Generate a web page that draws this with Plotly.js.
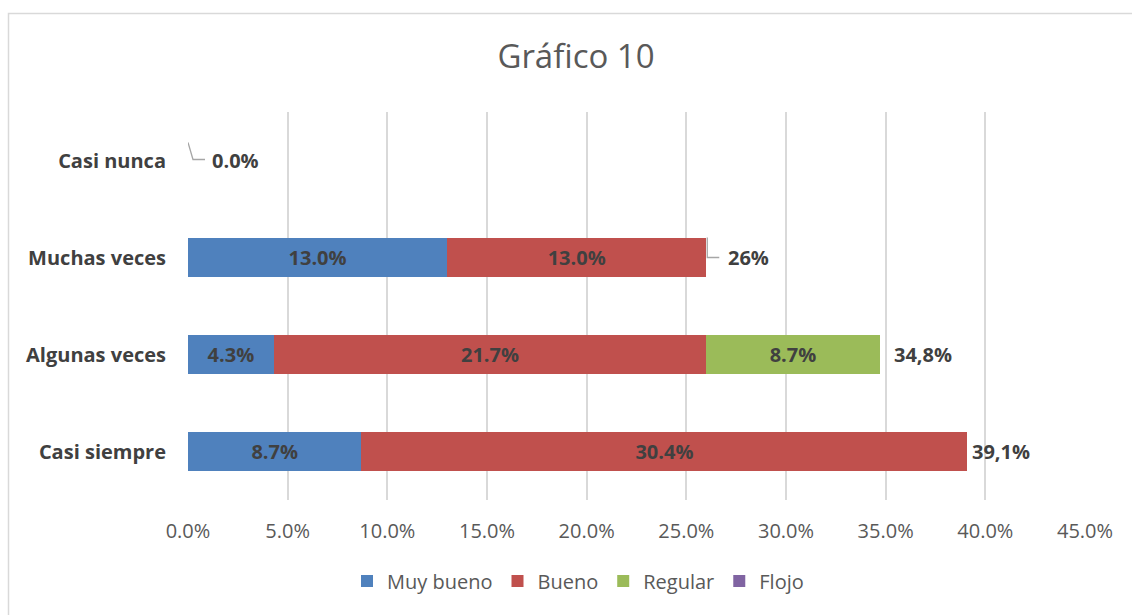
<!DOCTYPE html>
<html>
<head>
<meta charset="utf-8">
<script src="https://cdn.plot.ly/plotly-3.0.1.min.js"></script>
<style>html,body{margin:0;padding:0;background:#fff;}#chart{width:1132px;height:615px;}</style>
</head>
<body>
<div id="chart"></div>
<script>
const categories = ["Casi siempre", "Algunas veces", "Muchas veces", "Casi nunca"];
const seriesNames = ["Muy bueno", "Bueno", "Regular", "Flojo"];
const muyBueno = [8.7, 4.3, 13.0, 0.0];
const bueno = [30.4, 21.7, 13.0, 0.0];
const regular = [0.0, 8.7, 0.0, 0.0];
const flojo = [0.0, 0.0, 0.0, 0.0];
const totals = [39.1, 34.8, 26.0, 0.0];
const totalLabels = ["39,1%", "34,8%", "26%", "0.0%"];
const tickVals = [0, 5, 10, 15, 20, 25, 30, 35, 40, 45];
const tickLabels = ["0.0%", "5.0%", "10.0%", "15.0%", "20.0%", "25.0%", "30.0%", "35.0%", "40.0%", "45.0%"];
const colors = ["#4F81BD", "#C0504D", "#9BBB59", "#8064A2"];

const FONT = "'Open Sans', sans-serif";
const seriesValues = [muyBueno, bueno, regular, flojo];
const labelShift = [3, 10, 20, 22];

const traces = seriesValues.map((vals, i) => ({
  type: "bar",
  orientation: "h",
  name: seriesNames[i],
  y: categories,
  x: vals,
  text: vals.map(v => v > 0 ? v.toFixed(1) + "%" : ""),
  textposition: "inside",
  insidetextanchor: "middle",
  constraintext: "none",
  textfont: {family: FONT, size: 20, color: "#404040", weight: "bold"},
  marker: {color: colors[i], line: {width: 0}},
  hoverinfo: "skip"
}));

const annotations = categories.map((c, i) => ({
  x: totals[i],
  y: c,
  xref: "x",
  yref: "y",
  text: "<b>" + totalLabels[i] + "</b>",
  showarrow: false,
  xanchor: "left",
  yanchor: "middle",
  xshift: labelShift[i],
  font: {family: FONT, size: 20, color: "#404040"}
}));

const shapes = [];
shapes.push({
  type: "path", xref: "x", yref: "y", xsizemode: "pixel", ysizemode: "pixel",
  xanchor: totals[2], yanchor: categories[2],
  path: "M 1,20 L 1,0 L 13,0",
  line: {color: "#a6a6a6", width: 1.3}
});
shapes.push({
  type: "path", xref: "x", yref: "y", xsizemode: "pixel", ysizemode: "pixel",
  xanchor: totals[3], yanchor: categories[3],
  path: "M 0,18 L 5,1 L 17,1",
  line: {color: "#a6a6a6", width: 1.3}
});
shapes.push({
  type: "rect", xref: "paper", yref: "paper",
  x0: (8.5 - 188) / 897, x1: (1145 - 188) / 897,
  y0: (500 - 13.5) / 388, y1: (500 - 630) / 388,
  line: {color: "#d9d9d9", width: 1.5}, fillcolor: "rgba(0,0,0,0)", layer: "below"
});

const layout = {
  width: 1132, height: 615,
  margin: {l: 188, r: 47, t: 112, b: 115},
  paper_bgcolor: "#ffffff", plot_bgcolor: "#ffffff",
  barmode: "stack",
  bargap: 0.59,
  showlegend: true,
  title: {text: "Gráfico 10", x: 576 / 1132, xanchor: "center", y: 1 - 56 / 615, yanchor: "middle",
          font: {family: FONT, size: 33, color: "#595959"}},
  xaxis: {
    range: [0, 45], tickvals: tickVals, ticktext: tickLabels,
    showgrid: true, gridcolor: "#d9d9d9", gridwidth: 1.7,
    zeroline: false, showline: false, ticks: "",
    ticklabelstandoff: 17,
    tickfont: {family: FONT, size: 20, color: "#595959"},
    fixedrange: true
  },
  yaxis: {
    categoryorder: "array", categoryarray: categories,
    showgrid: false, zeroline: false, showline: false, ticks: "",
    ticklabelstandoff: 21,
    tickfont: {family: FONT, size: 20, color: "#404040", weight: "bold"},
    fixedrange: true
  },
  legend: {
    orientation: "h", x: 578 / 1132, xanchor: "center", xref: "container",
    y: 1 - 581 / 615, yref: "container", yanchor: "middle",
    font: {family: FONT, size: 20, color: "#595959"},
    traceorder: "normal", itemwidth: 30, tracegroupgap: 0
  },
  annotations: annotations,
  shapes: shapes,
  uniformtext: {mode: false}
};

Plotly.newPlot("chart", traces, layout, {displayModeBar: false, staticPlot: true});
</script>
</body>
</html>
